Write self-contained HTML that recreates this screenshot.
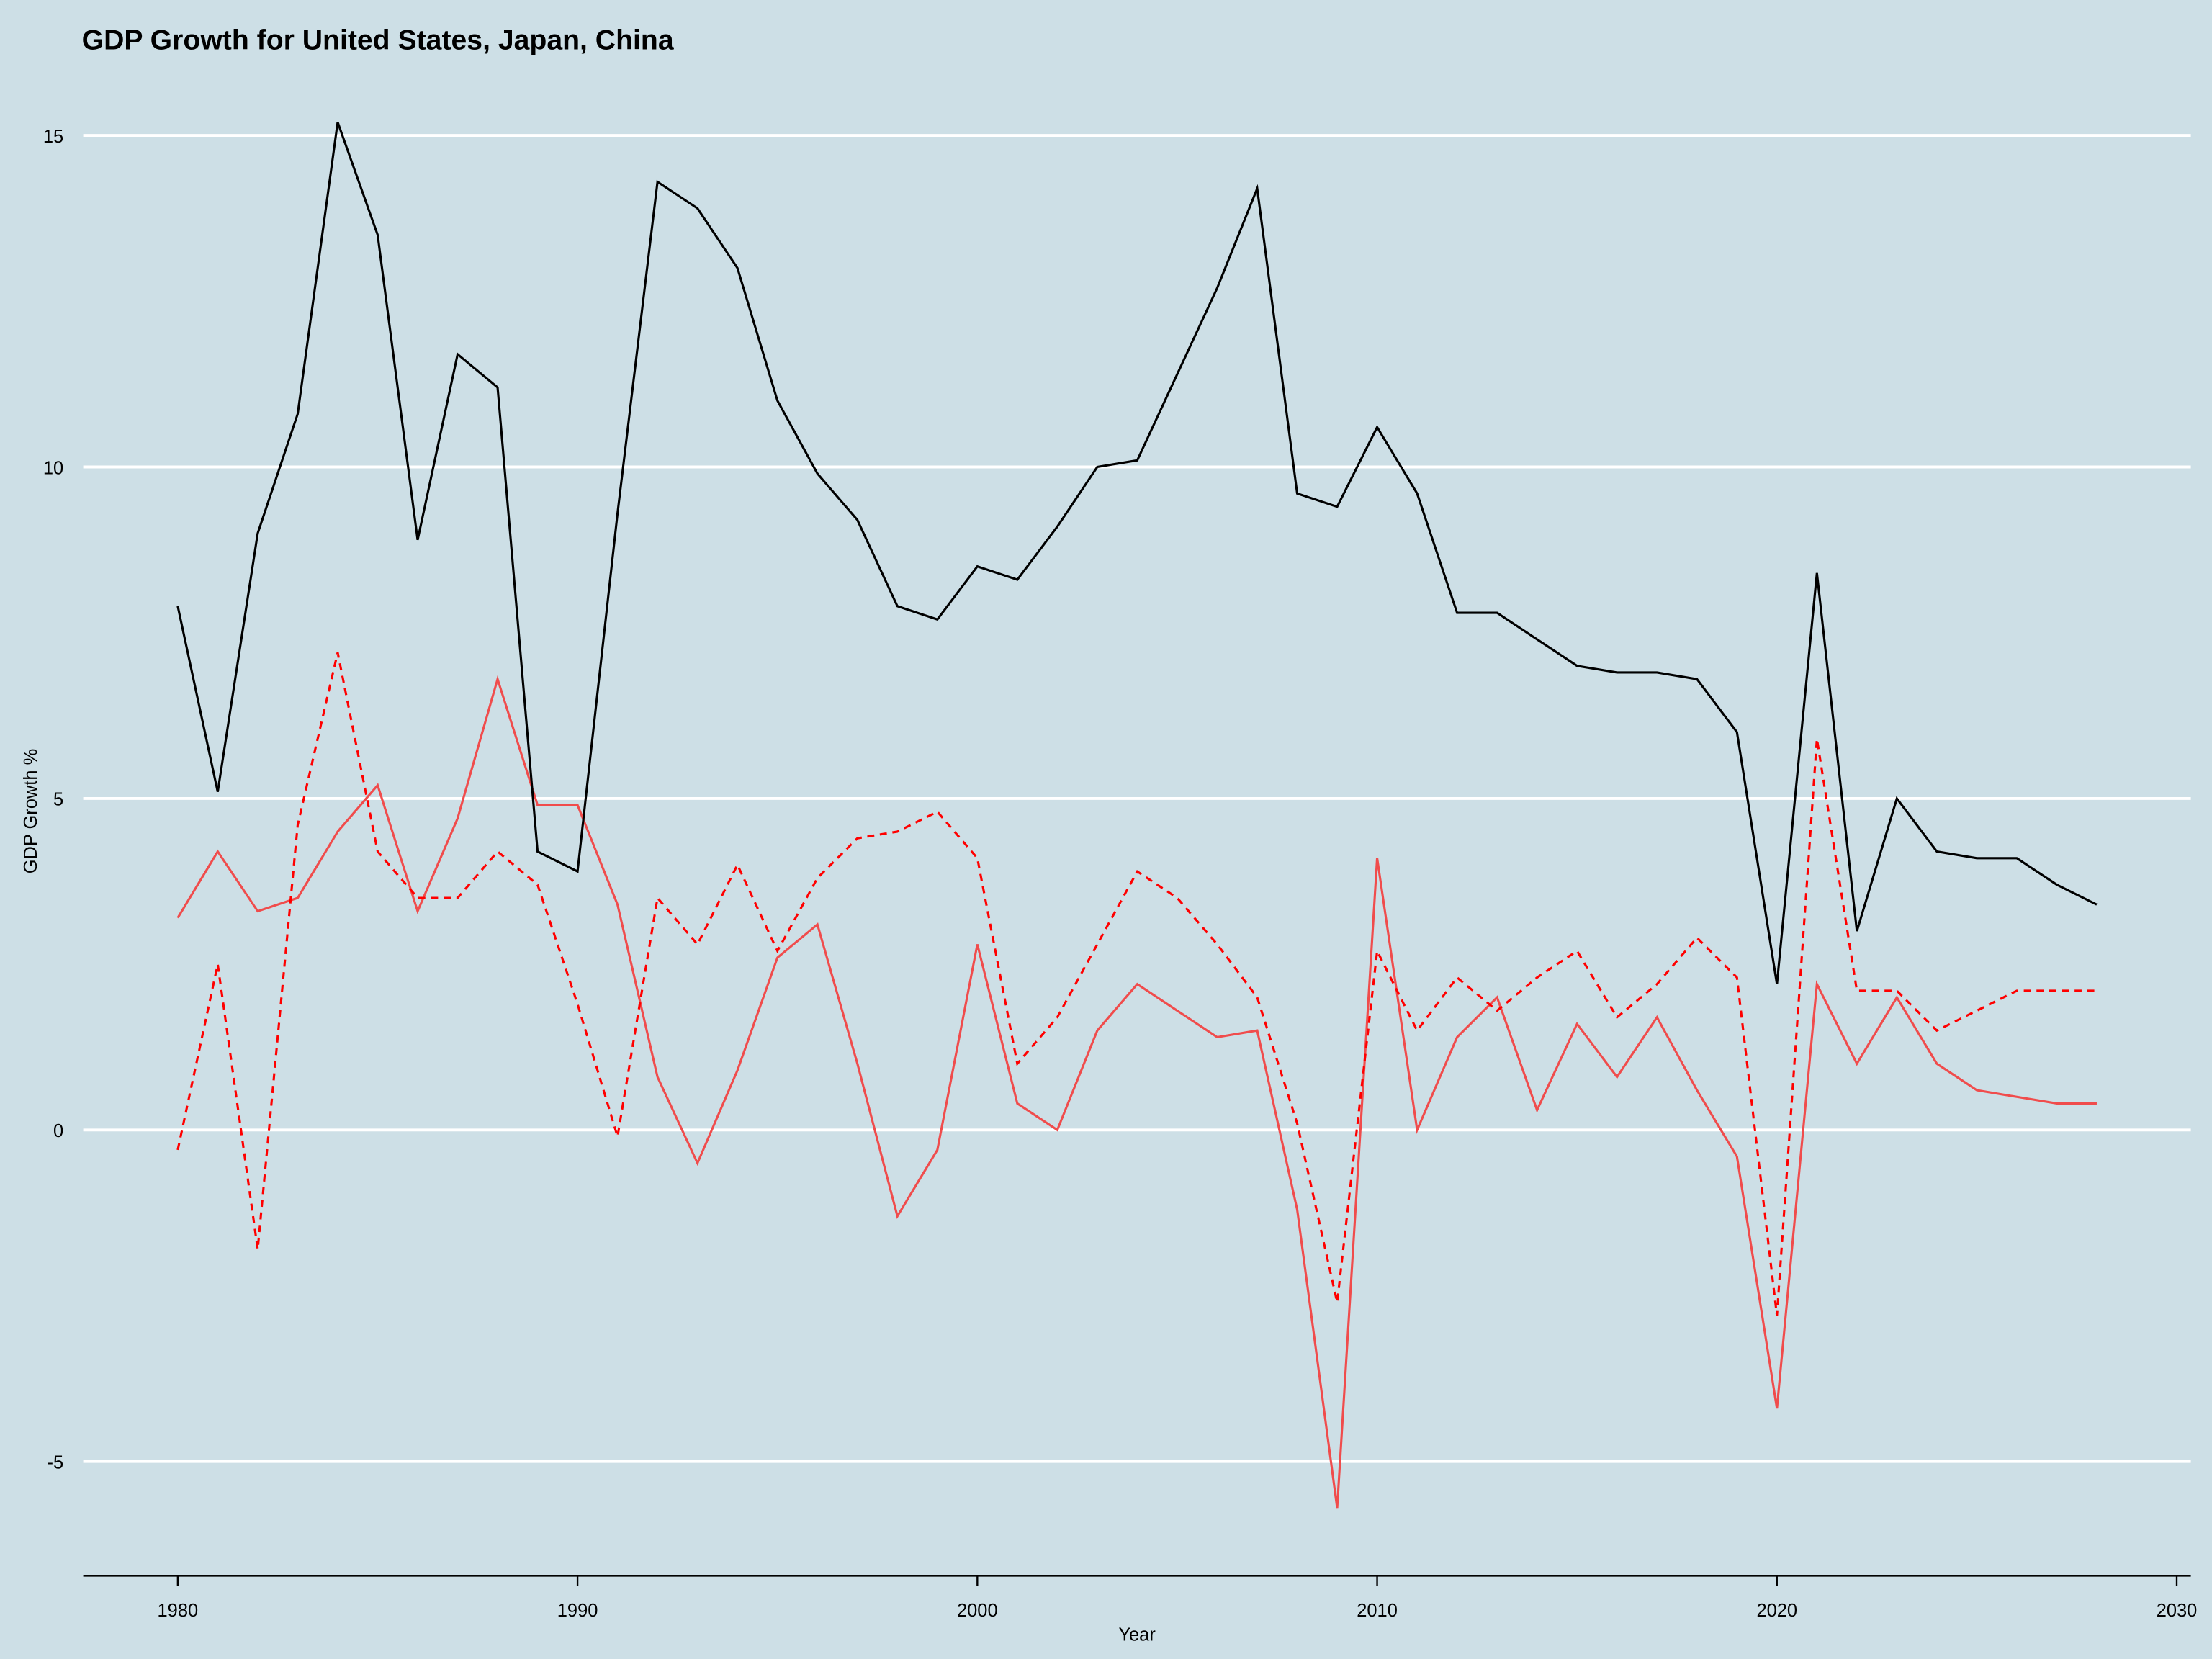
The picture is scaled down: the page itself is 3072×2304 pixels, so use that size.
<!DOCTYPE html>
<html><head><meta charset="utf-8"><style>
html,body{margin:0;padding:0;background:#cddfe6;}
svg{display:block;font-family:"Liberation Sans",Arial,sans-serif;}
</style></head><body>
<svg id="chart" width="3072" height="2304" viewBox="0 0 1568 1176" xmlns="http://www.w3.org/2000/svg">
<rect x="0" y="0" width="1568" height="1176" fill="#cddfe6"/>
<text x="58" y="35" font-size="20" font-weight="bold" fill="#000">GDP Growth for United States, Japan, China</text>
<g id="grid"></g>
<g id="yticks"></g>
<g id="xaxis"></g>
<g id="series"></g>
<text x="806" y="1163" font-size="13" text-anchor="middle">Year</text>
<text x="26" y="575" font-size="13" text-anchor="middle" transform="rotate(-90 26 575)">GDP Growth %</text>
</svg>
<script>
const years = [];
for (let y = 1980; y <= 2028; y++) years.push(y);
const china = [7.9,5.1,9.0,10.8,15.2,13.5,8.9,11.7,11.2,4.2,3.9,9.3,14.3,13.9,13.0,11.0,9.9,9.2,7.9,7.7,8.5,8.3,9.1,10.0,10.1,11.4,12.7,14.2,9.6,9.4,10.6,9.6,7.8,7.8,7.4,7.0,6.9,6.9,6.8,6.0,2.2,8.4,3.0,5.0,4.2,4.1,4.1,3.7,3.4];
const japan = [3.2,4.2,3.3,3.5,4.5,5.2,3.3,4.7,6.8,4.9,4.9,3.4,0.8,-0.5,0.9,2.6,3.1,1.0,-1.3,-0.3,2.8,0.4,0.0,1.5,2.2,1.8,1.4,1.5,-1.2,-5.7,4.1,0.0,1.4,2.0,0.3,1.6,0.8,1.7,0.6,-0.4,-4.2,2.2,1.0,2.0,1.0,0.6,0.5,0.4,0.4];
const usa = [-0.3,2.5,-1.8,4.6,7.2,4.2,3.5,3.5,4.2,3.7,1.9,-0.1,3.5,2.8,4.0,2.7,3.8,4.4,4.5,4.8,4.1,1.0,1.7,2.8,3.9,3.5,2.8,2.0,0.1,-2.6,2.7,1.5,2.3,1.8,2.3,2.7,1.7,2.2,2.9,2.3,-2.8,5.9,2.1,2.1,1.5,1.8,2.1,2.1,2.1];
const yTicks = [-5,0,5,10,15];
const xTicks = [1980,1990,2000,2010,2020,2030];

const NS = "http://www.w3.org/2000/svg";
const xs = v => 126 + (v - 1980) * (1543 - 126) / 50;
const ys = v => 801 - v * 47;
function mk(tag, attrs, parent) {
  const e = document.createElementNS(NS, tag);
  for (const k in attrs) e.setAttribute(k, attrs[k]);
  parent.appendChild(e);
  return e;
}
const grid = document.getElementById('grid');
const yt = document.getElementById('yticks');
yTicks.forEach(t => {
  const l = mk('line', {x1:59, x2:1553, y1:ys(t), y2:ys(t), stroke:'#fff', 'stroke-width':2}, grid);
  
  
  const tx = mk('text', {x:45, y:ys(t)+5, 'font-size':13, 'text-anchor':'end'}, yt);
  tx.textContent = t;
  
  
});
const xa = document.getElementById('xaxis');
const al = mk('line', {x1:59, x2:1553, y1:1117, y2:1117, stroke:'#000', 'stroke-width':1.2}, xa);


xTicks.forEach(t => {
  const l = mk('line', {x1:xs(t), x2:xs(t), y1:1117, y2:1124, stroke:'#000', 'stroke-width':1.2}, xa);
  
  
  const tx = mk('text', {x:xs(t), y:1146, 'font-size':13, 'text-anchor':'middle'}, xa);
  tx.textContent = t;
  
  
});
const sg = document.getElementById('series');
function line(vals, color, dash, name) {
  const d = vals.map((v, i) => (i ? 'L' : 'M') + xs(years[i]).toFixed(2) + ',' + ys(v).toFixed(2)).join(' ');
  const p = mk('path', {d:d, fill:'none', stroke:color, 'stroke-width':1.6}, sg);
  if (dash) p.setAttribute('stroke-dasharray', dash);
  
  
}
line(japan, '#f04c4c', null, 'japan-line');
line(usa, '#ff0000', '5,4', 'united-states-line');
line(china, '#000000', null, 'china-line');
</script>
</body></html>
